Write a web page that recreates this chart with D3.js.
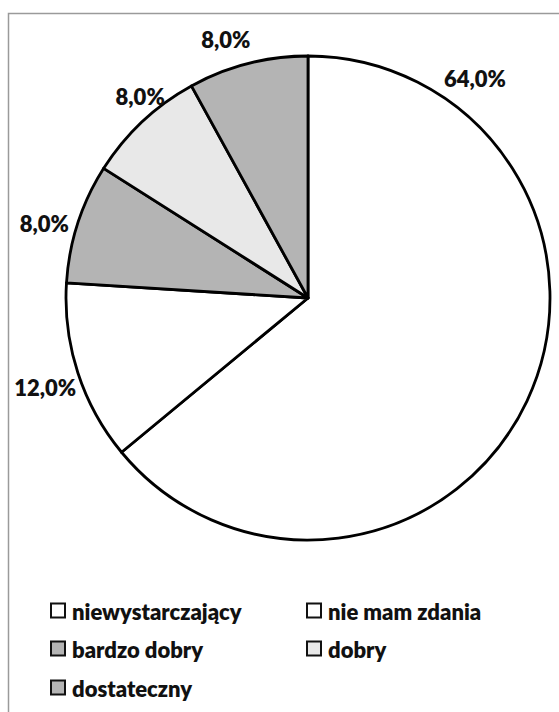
<!DOCTYPE html>
<html><head><meta charset="utf-8">
<script src="https://cdn.jsdelivr.net/npm/d3@7"></script>
<style>body{margin:0;background:#fff}svg{display:block}</style>
</head><body>
<svg id="c" width="559" height="712"></svg>
<script>
const categories = ["niewystarczający", "nie mam zdania", "bardzo dobry", "dobry", "dostateczny"];
const values = [64.0, 12.0, 8.0, 8.0, 8.0];
const labels = ["64,0%", "12,0%", "8,0%", "8,0%", "8,0%"];
const colors = ["#ffffff", "#ffffff", "#b4b4b4", "#e8e8e8", "#b4b4b4"];

const svg = d3.select("#c");
svg.append("path").attr("d", "M8.5,712 L8.5,13.5 L559,13.5").attr("fill", "none").attr("stroke", "#9a9a9a").attr("stroke-width", 1.5);

const cx = 308, cy = 298, r = 242;
const pie = d3.pie().sort(null).value(d => d)(values);
const arc = d3.arc().innerRadius(0).outerRadius(r);
const g = svg.append("g").attr("transform", `translate(${cx},${cy})`);
g.selectAll("path").data(pie).join("path")
  .attr("d", arc).attr("fill", (d, i) => colors[i])
  .attr("stroke", "#000").attr("stroke-width", 2.8).attr("stroke-linejoin", "round");

const font = "Lato, 'Open Sans', sans-serif";
const labelArc = d3.arc().innerRadius(r + 28).outerRadius(r + 28);
const offsets = [[0, 0], [-6, 6], [-7, 9], [17, -5], [-15, 3]];
g.selectAll("text.lbl").data(pie).join("text").attr("class", "lbl")
  .attr("x", (d, i) => i === 0 ? 167 : labelArc.centroid(d)[0] + offsets[i][0])
  .attr("y", (d, i) => i === 0 ? -220 : labelArc.centroid(d)[1] + offsets[i][1])
  .attr("text-anchor", "middle").attr("dominant-baseline", "central")
  .attr("font-family", font).attr("font-weight", 800).attr("font-size", 22)
  .attr("fill", "#111").text((d, i) => labels[i]);

const leg = svg.append("g");
const pos = [[50, 611], [306, 611], [50, 649], [306, 649], [50, 688]];
categories.forEach((c, i) => {
  leg.append("rect").attr("x", pos[i][0] + 1).attr("y", pos[i][1] - 7.5)
    .attr("width", 14).attr("height", 14)
    .attr("fill", colors[i]).attr("stroke", "#111").attr("stroke-width", 2);
  leg.append("text").attr("x", pos[i][0] + 22).attr("y", pos[i][1])
    .attr("dominant-baseline", "central")
    .attr("font-family", font).attr("font-weight", 800).attr("font-size", 22)
    .attr("fill", "#111").text(c);
});
</script>
</body></html>
